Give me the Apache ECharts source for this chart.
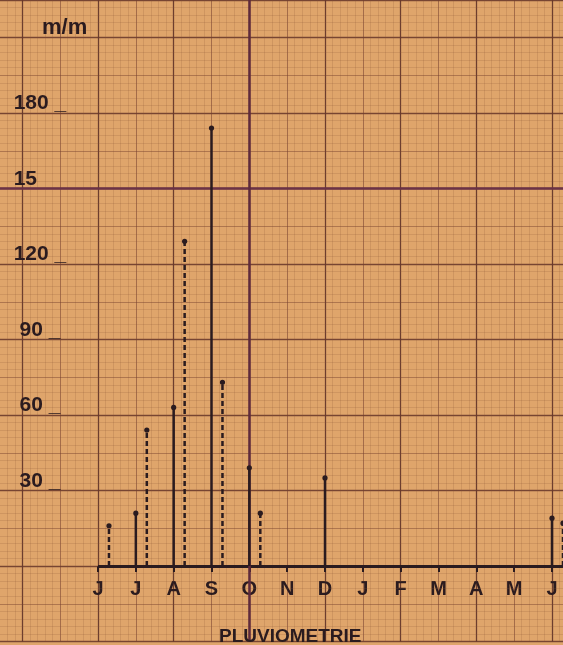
<!DOCTYPE html>
<html>
<head>
<meta charset="utf-8">
<script src="https://cdn.jsdelivr.net/npm/echarts@6/dist/echarts.min.js"></script>
<style>html,body{margin:0;padding:0;background:#dfa56b;}#c{width:563px;height:645px;}</style>
</head>
<body>
<div id="c"></div>
<script>
// ---- data ----
const months = ['J','J','A','S','O','N','D','J','F','M','A','M','J'];
// solid strokes (first year), mm
const solidValues = [null, 21, 63, 174, 39, null, 35, null, null, null, null, null, 19];
// dashed strokes (second year), mm
const dashedValues = [16, 54, 129, 73, 21, null, null, null, null, null, null, null, 17];
// y tick labels as lettered on the sheet
const yTickLabels = {180: '180 _', 150: '15', 120: '120 _', 90: ' 90 _', 60: ' 60 _', 30: ' 30 _'};

const ink = '#2a1b1f';
const font = 'Liberation Sans';

function toPoints(arr) {
  const out = [];
  arr.forEach((v, i) => { if (v !== null) out.push([i, v]); });
  return out;
}

function stickRenderer(offsetFrac, dashed) {
  return function (params, api) {
    const x = api.value(0), v = api.value(1);
    const base = api.coord([x, 0]);
    const top = api.coord([x, v]);
    const dx = offsetFrac * api.size([1, 0])[0];
    return {
      type: 'group',
      children: [
        {type: 'line', shape: {x1: base[0] + dx, y1: base[1], x2: top[0] + dx, y2: top[1]},
         style: {stroke: ink, lineWidth: 2.5, lineDash: dashed ? [5, 3] : null}},
        {type: 'circle', shape: {cx: top[0] + dx, cy: top[1], r: 2.6}, style: {fill: ink}}
      ]
    };
  };
}

function monthLabel(v) {
  const i = Math.round(Number(v));
  return (i >= 0 && i < months.length && Math.abs(Number(v) - i) < 1e-6) ? months[i] : '';
}

const gridLR = {left: -53.33, right: -64.67, outerBoundsMode: 'none', containLabel: false};

const chart = echarts.init(document.getElementById('c'));
const option = {
  backgroundColor: '#dfa56b',
  animation: false,
  title: [
    {text: 'm/m', left: 37, top: 12, textStyle: {fontFamily: font, fontSize: 22, fontWeight: 'bold', color: ink}},
    {text: 'PLUVIOMETRIE', left: 214, top: 622, textStyle: {fontFamily: font, fontSize: 19, fontWeight: 'bold', color: ink}}
  ],
  grid: [
    Object.assign({top: -0.25, bottom: 3.5}, gridLR),
    Object.assign({top: 0, bottom: 79}, gridLR)
  ],
  xAxis: [
    {type: 'value', gridIndex: 0, min: -4, max: 14, interval: 1, position: 'bottom',
     axisLine: {show: false, onZero: false}, axisTick: {show: false}, axisLabel: {show: false},
     splitLine: {show: true, lineStyle: {color: 'rgba(115,62,45,0.55)', width: 1}},
     minorTick: {show: false, splitNumber: 5},
     minorSplitLine: {show: true, lineStyle: {color: 'rgba(140,85,55,0.2)', width: 1}}},
    {type: 'value', gridIndex: 0, min: -4, max: 14, interval: 2, position: 'top',
     axisLine: {show: false, onZero: false}, axisTick: {show: false}, axisLabel: {show: false},
     splitLine: {show: true, lineStyle: {color: 'rgba(90,45,38,0.75)', width: 1.3}}},
    {type: 'value', gridIndex: 1, min: -4, max: 14, interval: 1, position: 'bottom',
     axisLine: {show: false, onZero: false},
     axisTick: {show: true, length: 6, lineStyle: {color: ink, width: 2},
       customValues: months.map((m, i) => i)},
     axisLabel: {show: true, margin: 13, formatter: monthLabel,
       fontFamily: font, fontSize: 20, fontWeight: 'bold', color: ink},
     splitLine: {show: false}}
  ],
  yAxis: [
    {type: 'value', gridIndex: 0, min: -30, max: 225, interval: 30, position: 'right',
     axisLine: {show: false, onZero: false}, axisTick: {show: false}, axisLabel: {show: false},
     splitLine: {show: true, lineStyle: {color: 'rgba(90,45,38,0.75)', width: 1.3}}},
    {type: 'value', gridIndex: 0, min: -30, max: 225, interval: 15, position: 'left', z: 3,
     axisLine: {show: false, onZero: false}, axisTick: {show: false},
     axisLabel: {show: true, inside: true, margin: 67, verticalAlign: 'bottom', lineHeight: 19,
       formatter: v => yTickLabels[v] || '',
       fontFamily: font, fontSize: 21, fontWeight: 'bold', color: ink},
     splitLine: {show: true, lineStyle: {color: 'rgba(115,62,45,0.45)', width: 1}},
     minorTick: {show: false, splitNumber: 5},
     minorSplitLine: {show: true, lineStyle: {color: 'rgba(140,85,55,0.2)', width: 1}}},
    {type: 'value', gridIndex: 1, min: 0, max: 225, show: false}
  ],
  series: [
    {type: 'line', xAxisIndex: 0, yAxisIndex: 0, data: [], silent: true,
     markLine: {silent: true, symbol: 'none', label: {show: false},
       data: [
         [{coord: [0, 0], lineStyle: {color: ink, width: 3, type: 'solid'}}, {coord: [14, 0]}],
         {yAxis: 150, lineStyle: {color: '#6b3246', width: 2.5, type: 'solid'}},
         {xAxis: 4, lineStyle: {color: '#5e2a3c', width: 2.5, type: 'solid'}}
       ]}},
    {type: 'custom', name: 'solid', xAxisIndex: 0, yAxisIndex: 0,
     renderItem: stickRenderer(0, false), data: toPoints(solidValues), z: 5},
    {type: 'custom', name: 'dashed', xAxisIndex: 0, yAxisIndex: 0,
     renderItem: stickRenderer(0.29, true), data: toPoints(dashedValues), z: 5}
  ]
};
chart.setOption(option);
</script>
</body>
</html>
